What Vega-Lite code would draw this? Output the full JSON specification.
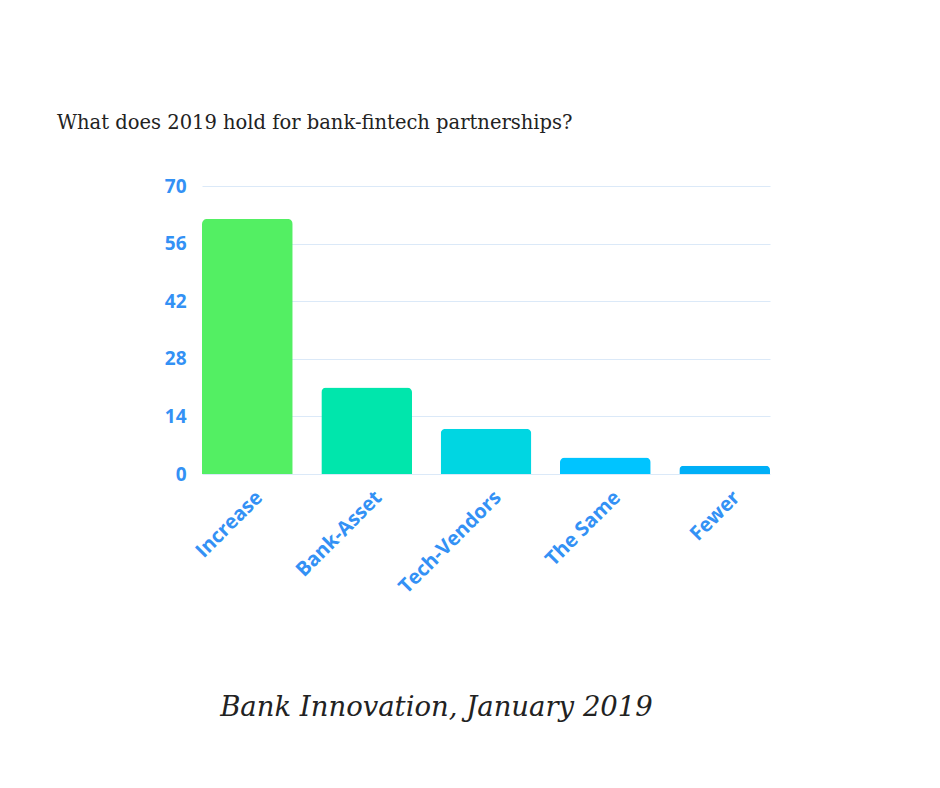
{
  "$schema": "https://vega.github.io/schema/vega-lite/v6.json",
  "autosize": {"type": "none"},
  "padding": {"left": 202, "top": 186, "right": 170, "bottom": 314},
  "width": 568,
  "height": 288,
  "background": "white",
  "config": {"view": {"stroke": null}},
  "title": {
    "text": "What does 2019 hold for bank-fintech partnerships?",
    "anchor": "start",
    "frame": "group",
    "dx": -145,
    "offset": 29,
    "font": "DejaVu Serif",
    "fontSize": 19.5,
    "fontWeight": "normal",
    "color": "#222222",
    "baseline": "alphabetic"
  },
  "data": {
    "values": [
      {"answer": "Increase", "count": 62},
      {"answer": "Bank-Asset", "count": 21},
      {"answer": "Tech-Vendors", "count": 11},
      {"answer": "The Same", "count": 4},
      {"answer": "Fewer", "count": 2}
    ]
  },
  "mark": {"type": "bar", "cornerRadiusTopLeft": 5, "cornerRadiusTopRight": 5},
  "encoding": {
    "x": {
      "field": "answer",
      "type": "nominal",
      "sort": null,
      "scale": {"paddingInner": 0.24, "paddingOuter": 0},
      "axis": {
        "title": "Bank Innovation, January 2019",
        "titleFont": "DejaVu Serif",
        "titleFontStyle": "italic",
        "titleFontWeight": "normal",
        "titleFontSize": 27.5,
        "titleColor": "#222222",
        "titleAnchor": "start",
        "titleAlign": "center",
        "titleBaseline": "alphabetic",
        "titleX": 234,
        "titleY": 241,
        "domain": false,
        "ticks": false,
        "labelAngle": -45,
        "labelAlign": "right",
        "labelBaseline": "top",
        "labelFont": "Open Sans",
        "labelFontWeight": "bold",
        "labelFontSize": 20,
        "labelColor": "#3391f5",
        "labelPadding": 13,
        "labelOffset": 5
      }
    },
    "y": {
      "field": "count",
      "type": "quantitative",
      "scale": {"domain": [0, 70]},
      "axis": {
        "title": null,
        "values": [0, 14, 28, 42, 56, 70],
        "domain": false,
        "ticks": false,
        "grid": true,
        "gridColor": "#dbe9f8",
        "gridWidth": 1,
        "labelFont": "Open Sans",
        "labelFontWeight": "bold",
        "labelFontSize": 19,
        "labelColor": "#3391f5",
        "labelPadding": 16
      }
    },
    "color": {
      "field": "answer",
      "type": "nominal",
      "sort": null,
      "scale": {
        "domain": ["Increase", "Bank-Asset", "Tech-Vendors", "The Same", "Fewer"],
        "range": ["#53ef63", "#00e6ac", "#00d6e2", "#00c4ff", "#00aff7"]
      },
      "legend": null
    }
  }
}
